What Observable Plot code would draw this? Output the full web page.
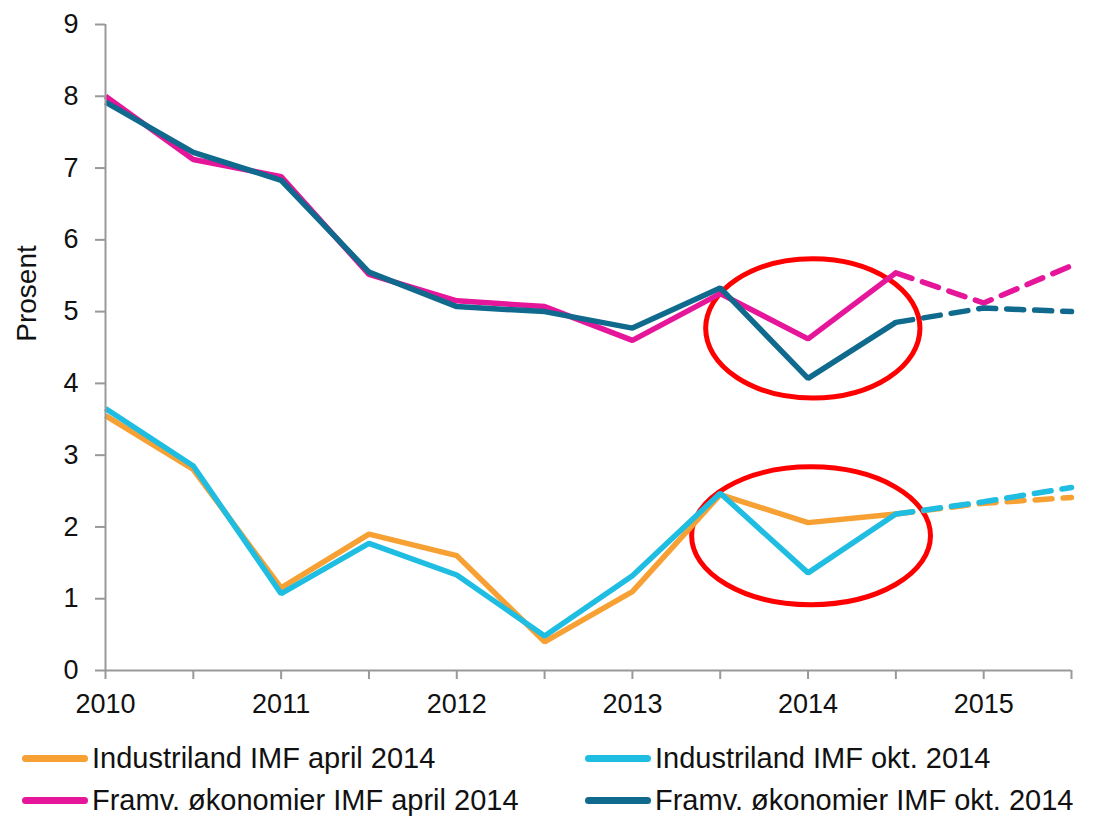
<!DOCTYPE html>
<html>
<head>
<meta charset="utf-8">
<script src="https://cdn.jsdelivr.net/npm/d3@7"></script>
<script src="https://cdn.jsdelivr.net/npm/@observablehq/plot@0.6"></script>
<style>
  body { margin: 0; background: #fff; font-family: "Liberation Sans", Arial, sans-serif; }
  #legend { position: relative; height: 100px; }
  .item { position: absolute; display: flex; align-items: center; font-size: 29px; color: #111; line-height: 34px; }
  .sw { width: 66px; height: 7px; border-radius: 3.5px; margin-right: 4px; }
</style>
</head>
<body>
<div id="chart"></div>
<div id="legend"></div>
<script>
const years = [2010, 2010.5, 2011, 2011.5, 2012, 2012.5, 2013, 2013.5, 2014, 2014.5, 2015, 2015.5];
const indApril = [3.55, 2.80, 1.15, 1.90, 1.60, 0.40, 1.10, 2.45, 2.06, 2.18, 2.33, 2.41];
const indOkt   = [3.65, 2.85, 1.07, 1.77, 1.33, 0.48, 1.32, 2.47, 1.36, 2.18, 2.35, 2.55];
const framApril = [8.00, 7.12, 6.88, 5.52, 5.15, 5.07, 4.60, 5.25, 4.62, 5.54, 5.12, 5.64];
const framOkt   = [7.92, 7.22, 6.83, 5.55, 5.07, 5.00, 4.77, 5.33, 4.07, 4.85, 5.05, 5.00];
const seriesNames = ["Industriland IMF april 2014", "Industriland IMF okt. 2014", "Framv. økonomier IMF april 2014", "Framv. økonomier IMF okt. 2014"];
const seriesColors = ["#F7A033", "#1FBDE2", "#E5169A", "#0F6A8D"];
const seriesValues = [indApril, indOkt, framApril, framOkt];
const lastActual = 2014.5;
// annotation ellipses: center x, center y, radius in years, radius in percent
const ellipseCx = [2014.03, 2014.02];
const ellipseCy = [4.76, 1.87];
const ellipseRx = [0.61, 0.68];
const ellipseRy = [0.97, 0.96];

const rows = [];
seriesNames.forEach((name, s) => {
  years.forEach((yr, i) => {
    if (yr <= lastActual) rows.push({series: name, seg: "solid", year: yr, value: seriesValues[s][i]});
    if (yr >= lastActual) rows.push({series: name, seg: "dash", year: yr, value: seriesValues[s][i]});
  });
});
const ellipses = ellipseCx.map((cx, i) => ({cx, cy: ellipseCy[i], rx: ellipseRx[i], ry: ellipseRy[i]}));

const ellipseMark = (index, scales) => {
  const g = d3.create("svg:g");
  for (const e of ellipses) {
    const x = scales.x(e.cx), y = scales.y(e.cy);
    const rx = scales.x(e.cx + e.rx) - x;
    const ry = scales.y(e.cy - e.ry) - y;
    g.append("ellipse").attr("cx", x).attr("cy", y).attr("rx", rx).attr("ry", ry)
      .attr("fill", "none").attr("stroke", "#FF0000").attr("stroke-width", 5);
  }
  return g.node();
};

const lineMarks = [];
seriesNames.forEach((name, s) => {
  lineMarks.push(Plot.line(rows.filter(d => d.series === name && d.seg === "solid"),
    {x: "year", y: "value", stroke: seriesColors[s], strokeWidth: 5.5, strokeLinejoin: "miter", strokeLinecap: "butt"}));
  lineMarks.push(Plot.line(rows.filter(d => d.series === name && d.seg === "dash"),
    {x: "year", y: "value", stroke: seriesColors[s], strokeWidth: 5.5, strokeDasharray: "17,11", strokeLinecap: "round"}));
});

const plot = Plot.plot({
  width: 1093,
  height: 725,
  marginLeft: 105,
  marginRight: 22,
  marginTop: 24,
  marginBottom: 55,
  style: {fontFamily: "Liberation Sans, Arial, sans-serif", fontSize: "27px", color: "#111", background: "#fff"},
  x: {domain: [2010, 2015.5]},
  y: {domain: [0, 9]},
  marks: [
    ellipseMark,
    ...lineMarks,
    Plot.ruleX([2010], {stroke: "#999", strokeWidth: 2}),
    Plot.ruleY([0], {stroke: "#999", strokeWidth: 2}),
    Plot.axisY({ticks: d3.range(0, 10), tickSize: 10, tickPadding: 17, stroke: "#999", strokeWidth: 2, fontSize: 27, label: null, tickFormat: d => d}),
    Plot.axisX({ticks: years, tickSize: 9, tickPadding: 14, stroke: "#999", strokeWidth: 2, fontSize: 27, label: null, tickFormat: d => Number.isInteger(d) ? String(d) : ""}),
    Plot.text(["Prosent"], {frameAnchor: "left", textAnchor: "middle", dx: -78, dy: -54, rotate: -90, fontSize: 28, text: d => d})
  ]
});
document.getElementById("chart").appendChild(plot);

const legend = document.getElementById("legend");
const pos = [[22, 16], [585, 16], [22, 58], [585, 58]];
seriesNames.forEach((name, s) => {
  const it = document.createElement("div");
  it.className = "item";
  it.style.left = pos[s][0] + "px";
  it.style.top = pos[s][1] + "px";
  it.innerHTML = `<span class="sw" style="background:${seriesColors[s]}"></span><span>${name}</span>`;
  legend.appendChild(it);
});
</script>
</body>
</html>
